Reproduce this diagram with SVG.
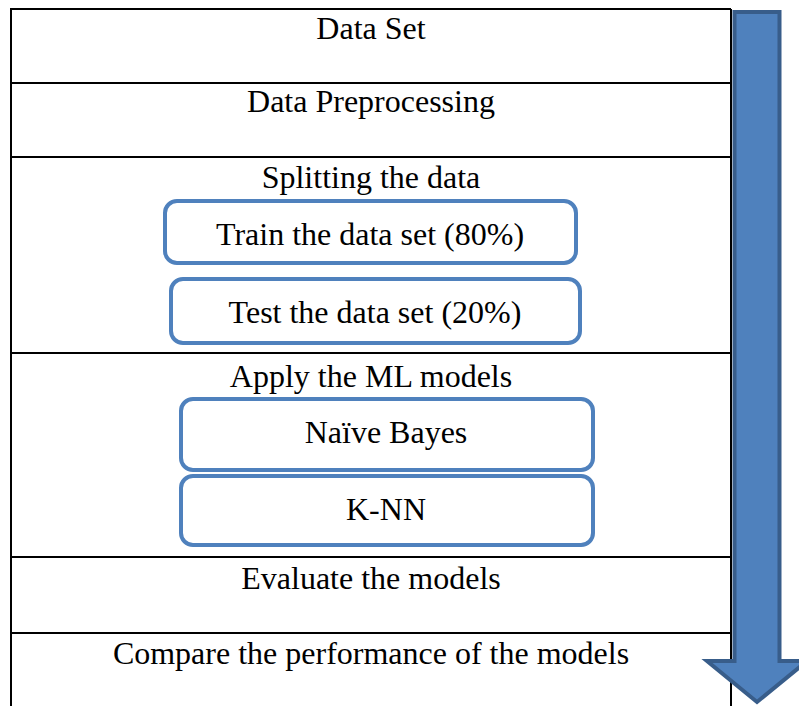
<svg xmlns="http://www.w3.org/2000/svg" width="799" height="706" viewBox="0 0 799 706">
<style>
.t{font-family:"Liberation Serif","Times New Roman",serif;font-size:32px;fill:#000;text-anchor:middle}
.tl{stroke:#000;stroke-width:2;fill:none}
.rb{fill:#fff;stroke:#4f81bd;stroke-width:4}
</style>
<rect width="799" height="706" fill="#fff"/>
<g id="table">
<line class="tl" x1="10" y1="9" x2="731" y2="9"/>
<line class="tl" x1="11" y1="9" x2="11" y2="706"/>
<line class="tl" x1="731" y1="9" x2="731" y2="706"/>
<line class="tl" x1="11" y1="83" x2="731" y2="83"/>
<line class="tl" x1="11" y1="157" x2="731" y2="157"/>
<line class="tl" x1="11" y1="353" x2="731" y2="353"/>
<line class="tl" x1="11" y1="557" x2="731" y2="557"/>
<line class="tl" x1="11" y1="633" x2="731" y2="633"/>
</g>
<g id="dataset"><text class="t" x="371" y="39">Data Set</text></g>
<g id="preprocessing"><text class="t" x="371" y="112">Data Preprocessing</text></g>
<g id="splitting"><text class="t" x="371" y="188">Splitting the data</text></g>
<g id="train"><rect class="rb" x="165" y="201" width="411" height="62" rx="12"/><text class="t" x="370" y="245">Train the data set (80%)</text></g>
<g id="test"><rect class="rb" x="171" y="279" width="409" height="64" rx="12"/><text class="t" x="375" y="323">Test the data set (20%)</text></g>
<g id="apply"><text class="t" x="371" y="387">Apply the ML models</text></g>
<g id="nb"><rect class="rb" x="181" y="399" width="412" height="71" rx="12"/><text class="t" x="386" y="443">Naïve Bayes</text></g>
<g id="knn"><rect class="rb" x="181" y="476" width="412" height="69" rx="12"/><text class="t" x="386" y="520">K-NN</text></g>
<g id="evaluate"><text class="t" x="371" y="589">Evaluate the models</text></g>
<g id="compare"><text class="t" x="371" y="664">Compare the performance of the models</text></g>
<g id="connectors">
<polygon points="734.5,12 779.5,12 779.5,661 807,661 757,702 707,661 734.5,661" fill="#4f81bd" stroke="#385d8a" stroke-width="4" stroke-linejoin="miter"/>
</g>
</svg>
